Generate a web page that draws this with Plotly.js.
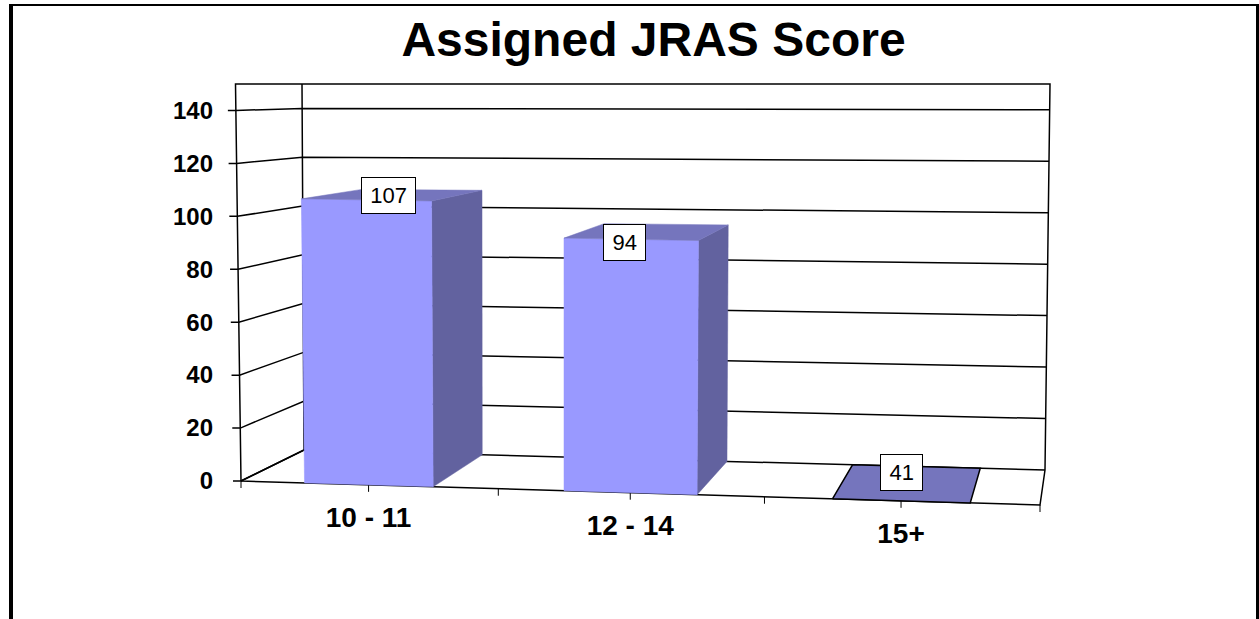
<!DOCTYPE html>
<html>
<head>
<meta charset="utf-8">
<script src="https://cdn.plot.ly/plotly-3.0.1.min.js"></script>
<style>html,body{margin:0;padding:0;background:#fff}#chart{width:1259px;height:619px}</style>
</head>
<body>
<div id="chart"></div>
<script>
// ---- data ----
const categories = ['10 - 11', '12 - 14', '15+'];
const dataLabels = [107, 94, 41];
const barHeights = [107, 94, 0];      // the third column is drawn flat in the reference
const yTickValues = [0, 20, 40, 60, 80, 100, 120, 140];
const axisTop = 150;

// ---- perspective box: figure position of the eight corners ----
const FL0 = [241, 481],  FLT = [235.5, 84];
const BL0 = [304, 450],  BLT = [302, 84];
const FR0 = [1040, 505], FRT = [1048, 93];
const BR0 = [1045, 470], BRT = [1050, 84];
const farWeight = 0.95;

function mix(a, b, t) { return a + (b - a) * t; }
function project(u, v, d) {
  const t = v / axisTop, out = [];
  for (let k = 0; k < 2; k++) {
    const left = mix(mix(FL0[k], FLT[k], t), mix(BL0[k], BLT[k], t), d);
    const right = mix(mix(FR0[k], FRT[k], t), mix(BR0[k], BRT[k], t), d);
    out.push(((1 - u) * left + u * farWeight * right) / ((1 - u) + u * farWeight));
  }
  return out;
}
// vertical scale: axis value <-> figure row
const zeroRow = 480.5, rowsPerUnit = 2.64;
const toAxisY = row => (zeroRow - row) / rowsPerUnit;

function polyline(points) {
  return { x: points.map(p => p ? p[0] : null), y: points.map(p => p ? toAxisY(p[1]) : null) };
}
function lineTrace(points, width) {
  return Object.assign(polyline(points), {
    type: 'scatter', mode: 'lines', hoverinfo: 'skip', showlegend: false,
    line: { color: '#000', width: width || 1.5 }
  });
}
function faceTrace(points, color, edge) {
  const closed = points.concat([points[0]]);
  return Object.assign(polyline(closed), {
    type: 'scatter', mode: 'lines', fill: 'toself', fillcolor: color, hoverinfo: 'skip', showlegend: false,
    line: edge ? { color: '#000', width: 1.5 } : { color: color, width: 0.5 }
  });
}

const traces = [];

// walls and floor
const gridPts = [];
yTickValues.forEach(v => {
  const f = project(0, v, 0);
  gridPts.push([f[0] - 8, f[1]], f, project(0, v, 1), project(1, v, 1), null);
});
traces.push(lineTrace(gridPts));
traces.push(lineTrace([
  project(0, 0, 0), project(0, axisTop, 0), project(0, axisTop, 1), project(1, axisTop, 1), project(1, 0, 1), project(1, 0, 0), project(0, 0, 0), null,
  project(0, 0, 0), project(0, 0, 1), project(0, axisTop, 1)
]));

// category ticks on the front floor edge
const catTicks = [];
[0, 1, 2, 3, 4, 5, 6].forEach(k => {
  const p = project(k / 6, 0, 0);
  catTicks.push(p, [p[0], p[1] + 7], null);
});
traces.push(lineTrace(catTicks, 1));

// columns
const catWidth = 1 / categories.length, halfBar = catWidth / 4;
barHeights.forEach((h, i) => {
  const c = (i + 0.5) * catWidth, a = c - halfBar, b = c + halfBar;
  if (h > 0) {
    traces.push(faceTrace([project(b, 0, 0), project(b, 0, 1), project(b, h, 1), project(b, h, 0)], '#62629F'));
    traces.push(faceTrace([project(a, 0, 0), project(b, 0, 0), project(b, h, 0), project(a, h, 0)], '#9999FF'));
  }
  traces.push(faceTrace([project(a, h, 0), project(b, h, 0), project(b, h, 1), project(a, h, 1)], '#7575BD', h === 0));
});

// category labels
const catLabelDrop = 35;
traces.push({
  type: 'scatter', mode: 'text', hoverinfo: 'skip', showlegend: false,
  x: categories.map((_, i) => project((i + 0.5) * catWidth, 0, 0)[0]),
  y: categories.map((_, i) => toAxisY(project((i + 0.5) * catWidth, 0, 0)[1] + catLabelDrop)),
  text: categories, textposition: 'middle center',
  textfont: { family: '"Liberation Sans", Arial, sans-serif', size: 28, color: '#000', weight: 700 }
});

// data labels
const labelNudge = [[-5, 1], [-23.5, 10.6], [-7, -11]];
const annotations = dataLabels.map((val, i) => {
  const p = project((i + 0.5) * catWidth, barHeights[i], 0.5);
  return {
    x: p[0] + labelNudge[i][0], y: toAxisY(p[1] + labelNudge[i][1]), xref: 'x', yref: 'y',
    text: String(val), showarrow: false, xanchor: 'center', yanchor: 'middle',
    font: { family: '"Liberation Sans", Arial, sans-serif', size: 22, color: '#000' },
    bgcolor: '#fff', bordercolor: '#000', borderwidth: 1, borderpad: 1,
    width: String(val).length * 11.7 + 16, height: 33
  };
});

const W = 1259, H = 619;
const layout = {
  width: W, height: H,
  margin: { l: 0, r: 0, t: 0, b: 0, pad: 0 },
  paper_bgcolor: '#fff', plot_bgcolor: '#fff',
  showlegend: false,
  title: {
    text: 'Assigned JRAS Score', x: 653.5 / W, y: 1 - 39 / H, xanchor: 'center', yanchor: 'middle', xref: 'paper', yref: 'paper',
    font: { family: '"Liberation Sans", Arial, sans-serif', size: 48, color: '#000', weight: 700 }
  },
  xaxis: { range: [0, W], domain: [0, 1], visible: false, fixedrange: true },
  yaxis: {
    range: [toAxisY(H), toAxisY(0)], domain: [0, 1], anchor: 'free', position: 213 / W, side: 'left',
    tickmode: 'array', tickvals: yTickValues, ticktext: yTickValues.map(String),
    showgrid: false, zeroline: false, showline: false, ticks: '', fixedrange: true, automargin: false,
    tickfont: { family: '"Liberation Sans", Arial, sans-serif', size: 24, color: '#000', weight: 700 }
  },
  annotations: annotations,
  shapes: [
    { type: 'rect', xref: 'paper', yref: 'paper', x0: 9 / W, x1: 13 / W, y0: 0, y1: 1 - 4 / H, fillcolor: '#000', line: { width: 0 } },
    { type: 'rect', xref: 'paper', yref: 'paper', x0: 9 / W, x1: 1, y0: 1 - 6 / H, y1: 1 - 4 / H, fillcolor: '#000', line: { width: 0 } },
    { type: 'rect', xref: 'paper', yref: 'paper', x0: 1256 / W, x1: 1, y0: 0, y1: 1 - 4 / H, fillcolor: '#000', line: { width: 0 } }
  ]
};
Plotly.newPlot('chart', traces, layout, { displayModeBar: false, staticPlot: true });
</script>
</body>
</html>
